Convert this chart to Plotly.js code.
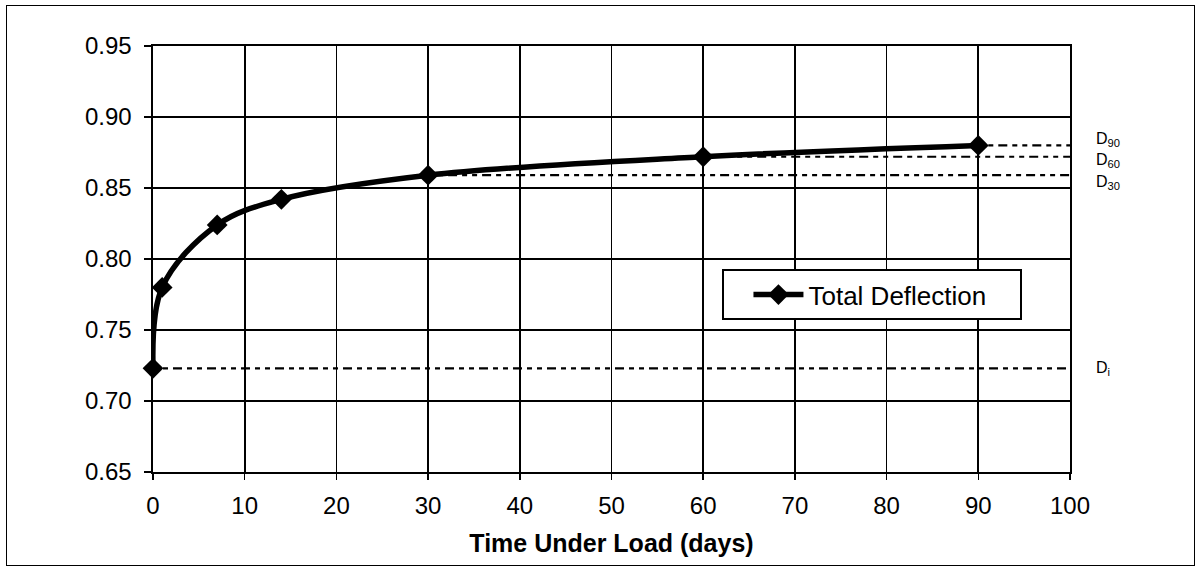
<!DOCTYPE html>
<html>
<head>
<meta charset="utf-8">
<script src="https://cdn.plot.ly/plotly-3.0.1.min.js"></script>
<style>
  html, body { margin: 0; padding: 0; background: #fff; }
  #wrap { position: relative; width: 1198px; height: 568px; }
  #chart { width: 1198px; height: 568px; }
  #frame { position: absolute; left: 6px; top: 5px; width: 1187px; height: 559px; border: 1.5px solid #000; pointer-events: none; }
</style>
</head>
<body>
<div id="wrap">
  <div id="chart"></div>
  <div id="frame"></div>
</div>
<script>
// Data
const days = [0, 1, 7, 14, 30, 60, 90];
const deflection = [0.723, 0.780, 0.824, 0.842, 0.859, 0.872, 0.880];

// Reference deflection levels (label, start day, value)
const refLabels = ['D<sub>i</sub>', 'D<sub>30</sub>', 'D<sub>60</sub>', 'D<sub>90</sub>'];
const refStartDays = [0, 30, 60, 90];
const refValues = [0.723, 0.859, 0.872, 0.880];
const refLabelShift = [0, -7, -4, 6];

const xTicks = [0, 10, 20, 30, 40, 50, 60, 70, 80, 90, 100];
const yTicks = [0.65, 0.70, 0.75, 0.80, 0.85, 0.90, 0.95];

const xMax = xTicks[xTicks.length - 1];
const fontFam = 'Arial, "Liberation Sans", Helvetica, sans-serif';

const traces = [];
refValues.forEach((v, i) => {
  traces.push({
    x: [refStartDays[i], xMax],
    y: [v, v],
    mode: 'lines',
    line: { color: '#000', width: 2.2, dash: '5px,5px,5px,5px,9px,5px' },
    showlegend: false,
    hoverinfo: 'skip'
  });
});
traces.push({
  x: days,
  y: deflection,
  name: 'Total Deflection\u00a0\u00a0\u00a0\u00a0',
  mode: 'lines+markers',
  line: { color: '#000', width: 5.5, shape: 'spline', smoothing: 1 },
  marker: { symbol: 'diamond', size: 16, color: '#000' },
  cliponaxis: false
});

const annotations = refLabels.map((t, i) => ({
  xref: 'paper', yref: 'y',
  x: 1, y: refValues[i],
  xshift: 24, yshift: refLabelShift[i],
  xanchor: 'left', yanchor: 'middle',
  text: t, showarrow: false,
  font: { family: fontFam, size: 16, color: '#000' }
}));

const layout = {
  width: 1198, height: 568,
  paper_bgcolor: '#fff', plot_bgcolor: '#fff',
  margin: { l: 153, r: 128, t: 46, b: 96 },
  showlegend: true,
  legend: {
    x: 0.621, y: 0.476, xanchor: 'left', yanchor: 'top',
    bgcolor: '#fff', bordercolor: '#000', borderwidth: 2,
    font: { family: fontFam, size: 26, color: '#000' },
    itemwidth: 50,
    indentation: 24
  },
  xaxis: {
    range: [0, xMax],
    tickvals: xTicks,
    ticktext: xTicks.map(String),
    showgrid: true, gridcolor: '#000', gridwidth: 1.6,
    showline: true, linecolor: '#000', linewidth: 1.6, mirror: true,
    ticks: 'outside', ticklen: 6, tickcolor: '#000', tickwidth: 1.5,
    zeroline: false,
    tickfont: { family: fontFam, size: 24, color: '#000' },
    ticklabelstandoff: 6,
    title: { text: '<b>Time Under Load (days)</b>', font: { family: fontFam, size: 25, color: '#000' }, standoff: 16 }
  },
  yaxis: {
    range: [0.65, 0.95],
    tickvals: yTicks,
    ticktext: yTicks.map(v => v.toFixed(2)),
    showgrid: true, gridcolor: '#000', gridwidth: 1.6,
    showline: true, linecolor: '#000', linewidth: 1.6, mirror: true,
    ticks: 'outside', ticklen: 7, tickcolor: '#000', tickwidth: 1.5,
    zeroline: false,
    ticklabelstandoff: 8,
    tickfont: { family: fontFam, size: 24, color: '#000' }
  },
  annotations: annotations
};

Plotly.newPlot('chart', traces, layout, { displayModeBar: false, staticPlot: true });
</script>
</body>
</html>
